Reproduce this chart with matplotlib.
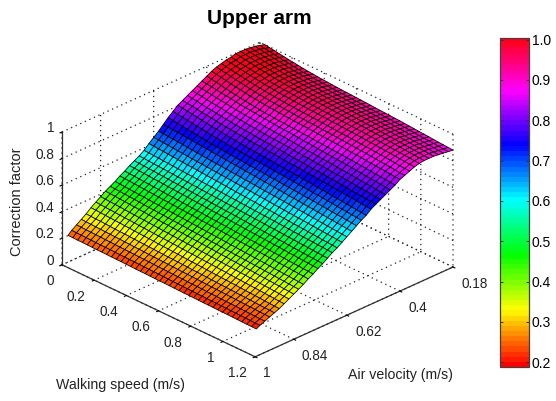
import numpy as np
import matplotlib
matplotlib.use('Agg')
import matplotlib.pyplot as plt
from matplotlib.cm import ScalarMappable
from matplotlib.colors import Normalize

air_velocity = [0.18, 0.2, 0.22, 0.24, 0.26, 0.28, 0.3, 0.32, 0.34, 0.36, 0.38, 0.4, 0.42, 0.44, 0.46, 0.48, 0.5, 0.52, 0.54, 0.56, 0.58,
                0.6, 0.62, 0.64, 0.66, 0.68, 0.7, 0.72, 0.74, 0.76, 0.78, 0.8, 0.82, 0.84, 0.86, 0.88, 0.9, 0.92, 0.94, 0.96, 0.98, 0.995]
walking_speed = [0.03, 0.06, 0.09, 0.12, 0.15, 0.18, 0.21, 0.24, 0.27, 0.3,
                 0.33, 0.36, 0.39, 0.42, 0.45, 0.48, 0.51, 0.54, 0.57, 0.6,
                 0.63, 0.66, 0.69, 0.72, 0.75, 0.78, 0.81, 0.84, 0.87, 0.9,
                 0.93, 0.96, 0.99, 1.02, 1.05, 1.08, 1.11, 1.14, 1.17, 1.2]
# one row per air velocity, one column per walking speed
correction = [
    [1.000,.994,.989,.983,.978,.972,.968,.963,.958,.954,.951,.947,.944,.942,.939,.937,.934,.933,.931,.929,.927,.925,.923,.920,.918,.916,.914,.912,.910,.907,.905,.902,.899,.897,.894,.891,.888,.886,.883,.880],
    [1.010,1.004,.998,.993,.987,.981,.977,.971,.966,.962,.959,.955,.952,.949,.947,.944,.942,.940,.938,.936,.934,.932,.929,.927,.925,.922,.920,.918,.916,.913,.911,.908,.905,.902,.899,.897,.894,.891,.888,.885],
    [1.020,1.014,1.008,1.002,.996,.990,.985,.980,.974,.971,.967,.963,.959,.957,.954,.951,.949,.947,.945,.943,.941,.938,.936,.934,.932,.929,.927,.925,.922,.919,.917,.914,.911,.908,.905,.902,.899,.896,.893,.890],
    [1.025,1.019,1.013,1.007,1.001,.995,.990,.985,.979,.976,.972,.968,.964,.962,.959,.956,.954,.952,.950,.948,.946,.943,.941,.939,.937,.934,.932,.930,.927,.924,.922,.919,.916,.913,.910,.907,.904,.901,.898,.895],
    [1.030,1.024,1.018,1.012,1.006,1.000,.995,.990,.984,.981,.977,.973,.969,.967,.964,.961,.959,.957,.955,.953,.951,.948,.946,.944,.942,.939,.937,.935,.932,.929,.927,.924,.921,.918,.915,.912,.909,.906,.903,.900],
    [1.030,1.024,1.018,1.012,1.006,1.000,.995,.990,.984,.981,.977,.973,.969,.967,.964,.961,.959,.957,.955,.953,.951,.948,.946,.944,.942,.939,.937,.935,.932,.929,.927,.924,.921,.918,.915,.912,.909,.906,.903,.900],
    [1.030,1.024,1.018,1.012,1.006,1.000,.995,.990,.984,.981,.977,.973,.969,.967,.964,.961,.959,.957,.955,.953,.951,.948,.946,.944,.942,.939,.937,.935,.932,.929,.927,.924,.921,.918,.915,.912,.909,.906,.903,.900],
    [1.020,1.014,1.008,1.003,.997,.991,.987,.981,.976,.972,.969,.965,.962,.959,.957,.954,.952,.950,.948,.946,.944,.942,.939,.937,.935,.932,.930,.928,.926,.923,.921,.918,.915,.912,.909,.907,.904,.901,.898,.895],
    [1.015,1.009,1.003,.997,.991,.985,.980,.975,.969,.966,.962,.958,.954,.952,.949,.946,.944,.942,.940,.938,.936,.933,.931,.929,.927,.924,.922,.920,.917,.914,.912,.909,.906,.903,.900,.897,.894,.891,.888,.885],
    [1.005,.999,.993,.986,.980,.974,.969,.963,.958,.954,.950,.946,.942,.939,.937,.934,.931,.929,.927,.925,.923,.920,.918,.915,.913,.910,.908,.906,.903,.900,.898,.895,.892,.889,.886,.883,.879,.876,.873,.870],
    [.995,.988,.982,.976,.969,.963,.958,.952,.946,.942,.938,.933,.930,.927,.924,.921,.919,.916,.914,.912,.910,.907,.905,.902,.900,.897,.895,.892,.889,.886,.884,.881,.877,.874,.871,.868,.865,.861,.858,.855],
    [.980,.973,.967,.961,.954,.948,.943,.937,.931,.927,.923,.918,.915,.912,.909,.906,.904,.901,.899,.897,.895,.892,.890,.887,.885,.882,.880,.877,.874,.871,.869,.866,.862,.859,.856,.853,.850,.846,.843,.840],
    [.960,.953,.947,.940,.933,.927,.921,.915,.909,.905,.901,.896,.892,.889,.886,.883,.881,.878,.876,.874,.872,.869,.866,.864,.861,.858,.856,.853,.851,.848,.845,.842,.838,.835,.832,.828,.825,.822,.818,.815],
    [.940,.934,.930,.924,.918,.914,.910,.904,.899,.895,.891,.888,.883,.881,.876,.873,.870,.867,.865,.862,.859,.854,.852,.849,.846,.843,.838,.837,.833,.830,.827,.824,.820,.817,.812,.809,.807,.802,.799,.795],
    [.920,.914,.910,.904,.898,.894,.890,.884,.879,.875,.871,.868,.863,.861,.856,.853,.850,.847,.845,.842,.839,.834,.832,.829,.826,.823,.818,.817,.813,.810,.807,.804,.800,.797,.792,.789,.787,.782,.779,.775],
    [.900,.894,.890,.884,.878,.874,.870,.864,.859,.855,.851,.848,.843,.841,.836,.833,.830,.827,.825,.822,.819,.814,.812,.809,.806,.803,.798,.797,.793,.790,.787,.784,.780,.777,.772,.769,.767,.762,.759,.755],
    [.880,.874,.870,.864,.858,.854,.850,.844,.839,.835,.831,.828,.823,.821,.816,.813,.810,.807,.805,.802,.799,.794,.792,.789,.786,.783,.778,.777,.773,.770,.767,.764,.760,.757,.752,.749,.747,.742,.739,.735],
    [.860,.854,.850,.844,.838,.834,.830,.824,.819,.815,.811,.808,.803,.801,.796,.793,.790,.787,.785,.782,.779,.774,.772,.769,.766,.763,.758,.757,.753,.750,.747,.744,.740,.737,.732,.729,.727,.722,.719,.715],
    [.840,.834,.829,.823,.817,.812,.807,.801,.797,.792,.787,.784,.780,.776,.772,.769,.766,.763,.759,.756,.753,.749,.745,.742,.739,.736,.732,.730,.725,.722,.719,.716,.711,.708,.704,.701,.697,.693,.690,.685],
    [.810,.804,.800,.794,.788,.784,.780,.774,.769,.765,.761,.758,.753,.751,.746,.743,.740,.737,.735,.732,.729,.724,.722,.719,.716,.713,.708,.707,.703,.700,.697,.694,.690,.687,.682,.679,.677,.672,.669,.665],
    [.780,.774,.770,.765,.759,.755,.751,.745,.741,.737,.732,.730,.725,.723,.718,.716,.713,.710,.707,.704,.702,.697,.695,.692,.689,.686,.682,.681,.676,.674,.671,.668,.664,.661,.657,.654,.651,.647,.644,.640],
    [.745,.742,.738,.735,.732,.728,.725,.722,.718,.715,.712,.708,.705,.702,.698,.695,.692,.688,.685,.682,.678,.675,.672,.668,.665,.662,.658,.655,.652,.648,.645,.642,.638,.635,.632,.628,.625,.622,.618,.615],
    [.710,.707,.704,.701,.698,.695,.692,.688,.685,.682,.679,.676,.673,.670,.667,.664,.661,.658,.655,.652,.648,.645,.642,.639,.636,.633,.630,.627,.624,.621,.618,.615,.612,.608,.605,.602,.599,.596,.593,.590],
    [.680,.677,.674,.671,.668,.665,.662,.659,.656,.653,.651,.648,.645,.642,.639,.636,.633,.630,.627,.624,.621,.618,.615,.612,.609,.606,.603,.600,.597,.594,.592,.589,.586,.583,.580,.577,.574,.571,.568,.565],
    [.650,.647,.644,.642,.639,.636,.633,.630,.627,.625,.622,.619,.616,.613,.611,.608,.605,.602,.599,.596,.594,.591,.588,.585,.582,.580,.577,.574,.571,.568,.565,.563,.560,.557,.554,.551,.548,.546,.543,.540],
    [.615,.613,.610,.608,.605,.603,.600,.598,.595,.593,.591,.588,.586,.583,.581,.578,.576,.574,.571,.569,.566,.564,.561,.559,.556,.554,.552,.549,.547,.544,.542,.539,.537,.534,.532,.530,.527,.525,.522,.520],
    [.590,.588,.585,.583,.580,.578,.575,.573,.570,.568,.566,.563,.561,.558,.556,.553,.551,.549,.546,.544,.541,.539,.536,.534,.531,.529,.527,.524,.522,.519,.517,.514,.512,.509,.507,.505,.502,.500,.497,.495],
    [.570,.567,.565,.562,.560,.557,.555,.552,.549,.547,.544,.542,.539,.537,.534,.532,.529,.526,.524,.521,.519,.516,.514,.511,.508,.506,.503,.501,.498,.496,.493,.491,.488,.485,.483,.480,.478,.475,.473,.470],
    [.550,.547,.545,.542,.540,.537,.535,.532,.529,.527,.524,.522,.519,.517,.514,.512,.509,.506,.504,.501,.499,.496,.494,.491,.488,.486,.483,.481,.478,.476,.473,.471,.468,.465,.463,.460,.458,.455,.453,.450],
    [.525,.522,.520,.517,.515,.512,.510,.507,.504,.502,.499,.497,.494,.492,.489,.487,.484,.481,.479,.476,.474,.471,.469,.466,.463,.461,.458,.456,.453,.451,.448,.446,.443,.440,.438,.435,.433,.430,.428,.425],
    [.505,.502,.500,.497,.495,.492,.490,.487,.484,.482,.479,.477,.474,.472,.469,.467,.464,.461,.459,.456,.454,.451,.449,.446,.443,.441,.438,.436,.433,.431,.428,.426,.423,.420,.418,.415,.413,.410,.408,.405],
    [.480,.477,.475,.472,.470,.467,.465,.462,.459,.457,.454,.452,.449,.447,.444,.442,.439,.436,.434,.431,.429,.426,.424,.421,.418,.416,.413,.411,.408,.406,.403,.401,.398,.395,.393,.390,.388,.385,.383,.380],
    [.460,.457,.455,.452,.450,.447,.445,.442,.439,.437,.434,.432,.429,.427,.424,.422,.419,.416,.414,.411,.409,.406,.404,.401,.398,.396,.393,.391,.388,.386,.383,.381,.378,.375,.373,.370,.368,.365,.363,.360],
    [.440,.437,.435,.432,.430,.427,.425,.422,.419,.417,.414,.412,.409,.407,.404,.402,.399,.396,.394,.391,.389,.386,.384,.381,.378,.376,.373,.371,.368,.366,.363,.361,.358,.355,.353,.350,.348,.345,.343,.340],
    [.415,.413,.410,.408,.405,.403,.400,.398,.395,.393,.391,.388,.386,.383,.381,.378,.376,.374,.371,.369,.366,.364,.361,.359,.356,.354,.352,.349,.347,.344,.342,.339,.337,.334,.332,.330,.327,.325,.322,.320],
    [.390,.388,.385,.383,.381,.378,.376,.374,.372,.369,.367,.365,.362,.360,.358,.355,.353,.351,.348,.346,.344,.342,.339,.337,.335,.332,.330,.328,.325,.323,.321,.318,.316,.314,.312,.309,.307,.305,.302,.300],
    [.365,.363,.361,.358,.356,.354,.352,.350,.348,.345,.343,.341,.339,.337,.334,.332,.330,.328,.326,.324,.321,.319,.317,.315,.313,.310,.308,.306,.304,.302,.300,.297,.295,.293,.291,.289,.286,.284,.282,.280],
    [.335,.333,.331,.330,.328,.326,.324,.322,.321,.319,.317,.315,.313,.312,.310,.308,.306,.304,.303,.301,.299,.297,.295,.294,.292,.290,.288,.286,.285,.283,.281,.279,.277,.276,.274,.272,.270,.268,.267,.265],
    [.310,.308,.307,.305,.304,.302,.301,.299,.298,.296,.295,.293,.292,.290,.288,.287,.285,.284,.282,.281,.279,.278,.276,.275,.273,.272,.270,.268,.267,.265,.264,.262,.261,.259,.258,.256,.255,.253,.252,.250],
    [.285,.284,.282,.281,.280,.279,.277,.276,.275,.273,.272,.271,.270,.268,.267,.266,.264,.263,.262,.261,.259,.258,.257,.255,.254,.253,.252,.250,.249,.248,.246,.245,.244,.243,.241,.240,.239,.237,.236,.235],
    [.260,.259,.258,.257,.256,.255,.254,.253,.252,.251,.250,.249,.248,.247,.246,.245,.244,.243,.242,.241,.239,.238,.237,.236,.235,.234,.233,.232,.231,.230,.229,.228,.227,.226,.225,.224,.223,.222,.221,.220],
    [.235,.234,.233,.233,.232,.231,.230,.230,.229,.228,.227,.227,.226,.225,.224,.223,.223,.222,.221,.220,.220,.219,.218,.217,.216,.216,.215,.214,.213,.213,.212,.211,.210,.210,.209,.208,.207,.206,.206,.205],
]

plt.rcParams['font.family'] = ['Liberation Sans', 'DejaVu Sans']
plt.rcParams['grid.linestyle'] = (0, (1, 3))
plt.rcParams['grid.color'] = '#222222'
plt.rcParams['grid.linewidth'] = 0.9

W = 556
H = 401
fig = plt.figure(figsize=(W / 100, H / 100), dpi=100)
S = 406.6
ax = fig.add_axes([48.7 / W, -7.3 / H, S / W, S / H], projection='3d', proj_type='ortho')
ax.set_box_aspect((276.5, 276.5, 150))
ax.view_init(elev=27.7, azim=45.7)

norm = Normalize(0.188, 1.004)
cmap = plt.get_cmap('hsv', 64)

Y, X = np.meshgrid(walking_speed, air_velocity)
Z = np.array(correction)
ax.plot_surface(X, Y, Z, rstride=1, cstride=1, cmap=cmap, norm=norm, edgecolor='black', linewidth=0.55, shade=False)

ax.set_xlim(0.18, 1)
ax.set_ylim(0, 1.2)
ax.set_zlim(0, 1)
ax.set_xticks([0.18, 0.4, 0.62, 0.84, 1])
ax.set_xticklabels(['0.18', '0.4', '0.62', '0.84', '1'], ha='left')
ax.set_yticks([0, 0.2, 0.4, 0.6, 0.8, 1, 1.2])
ax.set_yticklabels(['0', '0.2', '0.4', '0.6', '0.8', '1', '1.2'], ha='right')
ax.set_zticks([0, 0.2, 0.4, 0.6, 0.8, 1])
ax.set_zticklabels(['0', '0.2', '0.4', '0.6', '0.8', '1'], ha='right', va='baseline')
ax.zaxis.set_ticks_position('lower')

for axis in (ax.xaxis, ax.yaxis, ax.zaxis):
    axis.set_pane_color((1, 1, 1, 0))
    axis.pane.set_edgecolor('none')
    axis.line.set_color('#303030')
    axis.line.set_linewidth(0.9)
    axis._axinfo['tick']['inward_factor'] = 0.12
    axis._axinfo['tick']['outward_factor'] = 0.0
ax.tick_params(axis='x', labelsize=9.8, labelcolor='#222222', pad=-1.5)
ax.tick_params(axis='y', labelsize=9.8, labelcolor='#222222', pad=-1.5)
ax.tick_params(axis='z', labelsize=9.8, labelcolor='#222222', pad=-5)

fig.text(259 / W, 1 - 18 / H, 'Upper arm', fontsize=15, fontweight='bold', ha='center', va='center')
fig.text(120 / W, 1 - 385 / H, 'Walking speed (m/s)', fontsize=10.2, color='#222222', ha='center', va='center')
fig.text(400 / W, 1 - 375 / H, 'Air velocity (m/s)', fontsize=10.2, color='#222222', ha='center', va='center')
fig.text(17 / W, 1 - 202 / H, 'Correction factor', fontsize=10.5, color='#222222', rotation=90, ha='center', va='center')

cax = fig.add_axes([500 / W, 1 - 367 / H, 29 / W, 329 / H])
cb = fig.colorbar(ScalarMappable(norm=norm, cmap=cmap), cax=cax, ticks=[0.2, 0.3, 0.4, 0.5, 0.6, 0.7, 0.8, 0.9, 1.0], format='%.1f')
cax.tick_params(direction='in', length=2.5, width=0.7, labelsize=10, pad=2, color='#303030', left=True, right=True)
cb.outline.set_linewidth(0.9)
cb.outline.set_edgecolor('#404040')

fig.savefig('out.png', dpi=100)
